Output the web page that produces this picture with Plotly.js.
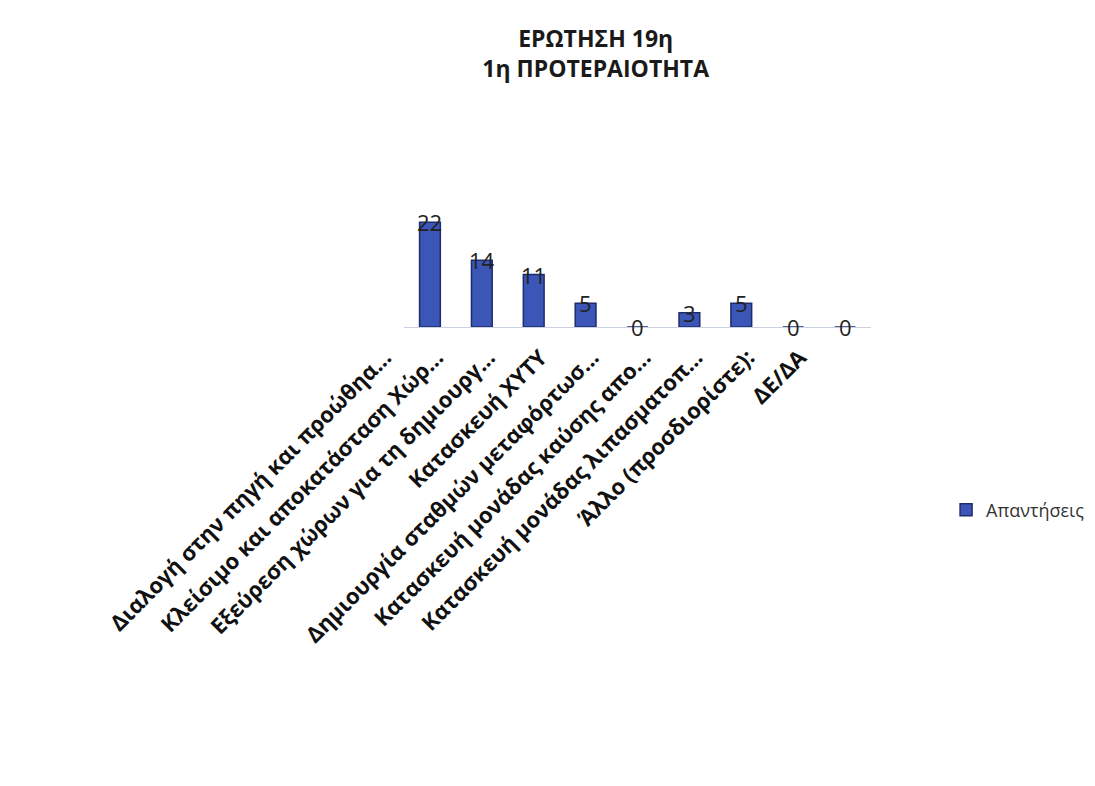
<!DOCTYPE html>
<html>
<head>
<meta charset="utf-8">
<script src="https://cdn.plot.ly/plotly-3.0.1.min.js"></script>
<style>html,body{margin:0;padding:0;background:#fff;}#chart{width:1095px;height:786px;}</style>
</head>
<body>
<div id="chart"></div>
<script>
const categories = [
  "Διαλογή στην πηγή και προώθηα...",
  "Κλείσιμο και αποκατάσταση Χώρ...",
  "Εξεύρεση χώρων για τη δημιουργ...",
  "Κατασκευή ΧΥΤΥ",
  "Δημιουργία σταθμών μεταφόρτωσ...",
  "Κατασκευή μονάδας καύσης απο...",
  "Κατασκευή μονάδας λιπασματοπ...",
  "Άλλο (προσδιορίστε):",
  "ΔΕ/ΔΑ"
];
const answers = [22, 14, 11, 5, 0, 3, 5, 0, 0];
const seriesName = "Απαντήσεις";
const titleLines = ["ΕΡΩΤΗΣΗ 19η", "1η ΠΡΟΤΕΡΑΙΟΤΗΤΑ"];

const trace = {
  type: 'bar',
  x: categories,
  y: answers,
  name: seriesName,
  marker: {color: '#3b56b6', line: {color: '#1f2c6c', width: 1.5}},
  hoverinfo: 'x+y'
};

const annotations = categories.map((c, i) => ({
  x: c, y: answers[i], xref: 'x', yref: 'y',
  text: String(answers[i]), showarrow: false,
  yanchor: 'middle', xanchor: 'center',
  font: {family: 'Open Sans, sans-serif', size: 22, color: '#222'}
}));

const layout = {
  width: 1095, height: 786,
  paper_bgcolor: '#ffffff', plot_bgcolor: '#ffffff',
  margin: {l: 404, r: 224, t: 184, b: 459, autoexpand: false},
  title: {
    text: '<b>' + titleLines.join('<br>') + '</b>',
    font: {family: 'Open Sans, sans-serif', size: 23, color: '#1a1a1a'},
    xref: 'container', x: 0.544, xanchor: 'center',
    yref: 'container', y: 0.94, yanchor: 'top'
  },
  bargap: 0.6,
  xaxis: {
    type: 'category',
    tickangle: -45,
    ticks: '',
    showgrid: false,
    automargin: false,
    showline: true, linecolor: '#c9d1e3', linewidth: 1,
    ticklabelshift: -45,
    ticklabelstandoff: 8,
    tickfont: {family: 'Open Sans, sans-serif', size: 22, weight: 'bold', color: '#111'}
  },
  yaxis: {
    range: [0, 30],
    visible: false,
    showgrid: false, zeroline: false
  },
  showlegend: true,
  legend: {
    xref: 'container', yref: 'container',
    x: 0.864, xanchor: 'left', y: 0.351, yanchor: 'middle',
    itemwidth: 30,
    font: {family: 'Open Sans, sans-serif', size: 18, color: '#333'},
    bgcolor: 'rgba(0,0,0,0)'
  },
  annotations: annotations
};

Plotly.newPlot('chart', [trace], layout, {displayModeBar: false, staticPlot: true});
</script>
</body>
</html>
